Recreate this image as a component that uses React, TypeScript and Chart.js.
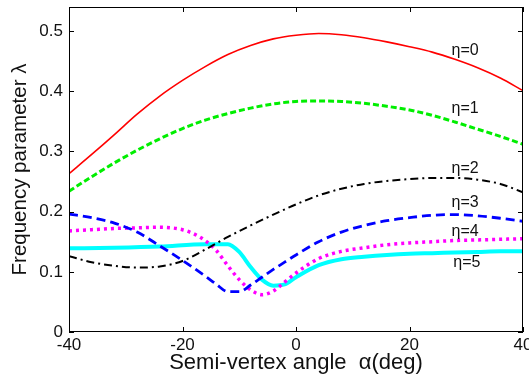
import React, { useEffect, useRef } from "react";
import { Chart, registerables } from "chart.js";

Chart.register(...registerables);

const xTicks = [-40, -20, 0, 20, 40];
const yTicks = [0, 0.1, 0.2, 0.3, 0.4, 0.5];

const x0 = [-40, -36, -32, -28, -24, -20, -16, -12, -8, -4, 0, 4, 8, 12, 16, 20, 24, 28, 32, 36, 40];
const eta0 = [0.263, 0.295, 0.328, 0.362, 0.392, 0.418, 0.441, 0.461, 0.476, 0.487, 0.493, 0.496, 0.494, 0.489, 0.482, 0.474, 0.465, 0.453, 0.439, 0.422, 0.401];

const x1 = [-40, -36, -32, -28, -24, -20, -16, -12, -8, -4, 0, 4, 8, 12, 16, 20, 24, 28, 32, 36, 40];
const eta1 = [0.234, 0.258, 0.281, 0.302, 0.321, 0.338, 0.352, 0.363, 0.372, 0.379, 0.383, 0.384, 0.383, 0.38, 0.375, 0.369, 0.36, 0.349, 0.337, 0.325, 0.312];

const x2 = [-40, -36, -32, -28, -24, -20, -16, -12, -8, -4, 0, 4, 8, 12, 16, 20, 24, 28, 32, 36, 40];
const eta2 = [0.126, 0.116, 0.11, 0.107, 0.109, 0.118, 0.137, 0.158, 0.177, 0.195, 0.212, 0.227, 0.238, 0.246, 0.251, 0.254, 0.256, 0.256, 0.253, 0.246, 0.232];

const x3 = [-40, -36, -32, -28, -24, -20, -16, -14, -12, -10, -8, -6, -4, -2, 0, 4, 8, 12, 16, 20, 24, 28, 32, 36, 40];
const eta3 = [0.196, 0.19, 0.181, 0.166, 0.143, 0.119, 0.093, 0.079, 0.067, 0.067, 0.078, 0.091, 0.104, 0.116, 0.128, 0.15, 0.166, 0.177, 0.185, 0.19, 0.194, 0.195, 0.193, 0.189, 0.184];

const x4 = [-40, -36, -32, -28, -24, -20, -18, -16, -14, -12, -10, -8, -6, -4, -2, 0, 4, 8, 12, 16, 20, 24, 28, 32, 36, 40];
const eta4 = [0.168, 0.17, 0.172, 0.173, 0.174, 0.17, 0.163, 0.152, 0.135, 0.11, 0.087, 0.07, 0.062, 0.068, 0.083, 0.098, 0.122, 0.134, 0.14, 0.145, 0.148, 0.15, 0.152, 0.153, 0.154, 0.155];

const x5 = [-40, -32, -24, -16, -12, -10, -8, -6, -4, -2, 0, 4, 8, 12, 16, 20, 24, 28, 32, 36, 40];
const eta5 = [0.139, 0.14, 0.142, 0.146, 0.146, 0.133, 0.108, 0.087, 0.077, 0.079, 0.091, 0.111, 0.121, 0.125, 0.128, 0.13, 0.131, 0.132, 0.133, 0.134, 0.134];

const seriesLabels = ["\u03b7=0", "\u03b7=1", "\u03b7=2", "\u03b7=3", "\u03b7=4", "\u03b7=5"];
const labelX = [29.8, 29.8, 29.8, 29.8, 29.8, 30.1];
const labelY = [0.467, 0.372, 0.272, 0.215, 0.166, 0.116];

const FONT = '"Liberation Sans", Arial, sans-serif';

const pts = (xs: number[], ys: number[]) => xs.map((x, i) => ({ x, y: ys[i] }));

export default function App() {
  const ref = useRef<HTMLCanvasElement | null>(null);
  useEffect(() => {
    if (!ref.current) return;
    const framePlugin = {
      id: "frame",
      afterDatasetsDraw(chart: any) {
        const { ctx, chartArea: a, scales } = chart;
        const xs = scales.x;
        const ys = scales.y;
        ctx.save();
        ctx.strokeStyle = "#000";
        ctx.lineWidth = 1;
        ctx.strokeRect(a.left + 0.5, a.top + 0.5, a.right - a.left - 1, a.bottom - a.top - 1);
        const tl = 5;
        ctx.beginPath();
        xTicks.forEach((v) => {
          const p = Math.round(xs.getPixelForValue(v)) + 0.5;
          ctx.moveTo(p, a.bottom);
          ctx.lineTo(p, a.bottom - tl);
          ctx.moveTo(p, a.top);
          ctx.lineTo(p, a.top + tl);
        });
        yTicks.forEach((v) => {
          const p = Math.round(ys.getPixelForValue(v)) + 0.5;
          ctx.moveTo(a.left, p);
          ctx.lineTo(a.left + tl, p);
          ctx.moveTo(a.right, p);
          ctx.lineTo(a.right - tl, p);
        });
        ctx.stroke();
        ctx.fillStyle = "#111";
        ctx.font = `16px ${FONT}`;
        ctx.textAlign = "center";
        ctx.textBaseline = "middle";
        seriesLabels.forEach((t, i) => {
          ctx.fillText(t, xs.getPixelForValue(labelX[i]), ys.getPixelForValue(labelY[i]));
        });
        ctx.restore();
      },
    };
    const common = { pointRadius: 0, fill: false, tension: 0.4, cubicInterpolationMode: "monotone" as const };
    const chart = new Chart(ref.current, {
      type: "line",
      data: {
        datasets: [
          { ...common, label: seriesLabels[0], data: pts(x0, eta0), borderColor: "#ff0000", borderWidth: 1.6 },
          { ...common, label: seriesLabels[1], data: pts(x1, eta1), borderColor: "#00ee00", borderWidth: 3, borderDash: [6, 3] },
          { ...common, label: seriesLabels[2], data: pts(x2, eta2), borderColor: "#000000", borderWidth: 2, borderDash: [8, 4, 2, 4] },
          { ...common, label: seriesLabels[3], data: pts(x3, eta3), borderColor: "#0000ff", borderWidth: 2.8, borderDash: [9, 5] },
          { ...common, label: seriesLabels[4], data: pts(x4, eta4), borderColor: "#ff00ff", borderWidth: 3.5, borderDash: [3, 4] },
          { ...common, label: seriesLabels[5], data: pts(x5, eta5), borderColor: "#00ffff", borderWidth: 4 },
        ],
      },
      options: {
        animation: false,
        responsive: false,
        maintainAspectRatio: false,
        layout: { padding: { left: 0, right: 6, top: 7, bottom: 0 } },
        plugins: { legend: { display: false }, tooltip: { enabled: false } },
        scales: {
          x: {
            type: "linear",
            min: -40,
            max: 40,
            grid: { display: false, drawTicks: false },
            border: { display: false },
            afterBuildTicks: (s: any) => {
              s.ticks = xTicks.map((v) => ({ value: v }));
            },
            afterFit: (s: any) => {
              s.height = 46;
              s.paddingLeft = 0;
              s.paddingRight = 0;
            },
            ticks: {
              autoSkip: false,
              maxRotation: 0,
              padding: 3,
              color: "#111",
              font: { family: FONT, size: 17 },
              callback: (v: any) => String(v),
            },
            title: {
              display: true,
              text: "Semi-vertex angle  \u03b1(deg)",
              color: "#111",
              font: { family: FONT, size: 22 },
              padding: { top: 0, bottom: 2 },
            },
          },
          y: {
            type: "linear",
            min: 0,
            max: 0.54,
            grid: { display: false, drawTicks: false },
            border: { display: false },
            afterBuildTicks: (s: any) => {
              s.ticks = yTicks.map((v) => ({ value: v }));
            },
            afterFit: (s: any) => {
              s.width = 69;
              s.paddingTop = 0;
              s.paddingBottom = 0;
            },
            ticks: {
              autoSkip: false,
              padding: 6,
              color: "#111",
              font: { family: FONT, size: 17 },
              callback: (v: any) => (v === 0 ? "0" : Number(v).toFixed(1)),
            },
            title: {
              display: true,
              text: "Frequency parameter \u03bb",
              color: "#111",
              font: { family: FONT, size: 20.5 },
              padding: { top: 8, bottom: 0 },
            },
          },
        },
      },
      plugins: [framePlugin],
    });
    return () => chart.destroy();
  }, []);
  return (
    <div style={{ position: "fixed", left: 0, top: 0, width: 529, height: 378, background: "#fff" }}>
      <canvas ref={ref} width={529} height={378} style={{ width: 529, height: 378, display: "block" }} />
    </div>
  );
}
